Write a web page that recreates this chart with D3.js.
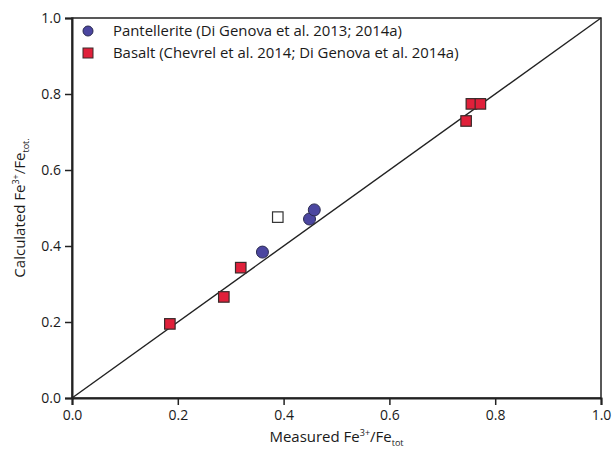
<!DOCTYPE html>
<html>
<head>
<meta charset="utf-8">
<script src="https://cdn.jsdelivr.net/npm/d3@7"></script>
<style>
body { margin: 0; background: #fff; }
#vis { width: 613px; height: 451px; }
text { font-family: "Open Sans", "Liberation Sans", sans-serif; fill: #1a1a1a; }
</style>
</head>
<body>
<div id="vis"></div>
<script>
// measured vs calculated Fe3+/Fetot
var pantelleriteX = [0.36, 0.449, 0.458];
var pantelleriteY = [0.384, 0.471, 0.495];
var basaltX = [0.185, 0.287, 0.319, 0.745, 0.755, 0.772];
var basaltY = [0.195, 0.266, 0.343, 0.729, 0.774, 0.774];
var openX = [0.389];
var openY = [0.476];
var ticks = [0, 0.2, 0.4, 0.6, 0.8, 1.0];
var legendLabels = ["Pantellerite (Di Genova et al. 2013; 2014a)",
                    "Basalt (Chevrel et al. 2014; Di Genova et al. 2014a)"];

var margin = { top: 18, left: 72, right: 12, bottom: 53 };
var width = 613 - margin.left - margin.right;
var height = 451 - margin.top - margin.bottom;

var svg = d3.select("#vis")
    .append("svg")
    .attr("width", 613)
    .attr("height", 451)
    .append("g")
    .attr("transform", "translate(" + margin.left + "," + margin.top + ")");

var xscale = d3.scaleLinear().domain([0, 1]).range([0, width]);
var yscale = d3.scaleLinear().domain([0, 1]).range([height, 0]);

// frame
svg.append("rect")
    .attr("width", width)
    .attr("height", height)
    .attr("fill", "none")
    .attr("stroke", "#222")
    .attr("stroke-width", 1.5);

var xaxis = d3.axisBottom(xscale).tickValues(ticks).tickFormat(d3.format(".1f"))
    .tickSize(7).tickPadding(5);
var yaxis = d3.axisLeft(yscale).tickValues(ticks).tickFormat(d3.format(".1f"))
    .tickSize(7).tickPadding(4);

var gx = svg.append("g")
    .attr("transform", "translate(0," + height + ")")
    .call(xaxis);
var gy = svg.append("g").call(yaxis);

[gx, gy].forEach(function(g) {
    g.select(".domain").attr("stroke", "#222").attr("stroke-width", 2);
    g.selectAll(".tick line").attr("stroke", "#222").attr("stroke-width", 1.5);
    g.selectAll(".tick text")
        .style("font-family", "'Open Sans', sans-serif")
        .style("font-size", "14px")
        .attr("fill", "#222");
});

// 1:1 line
svg.append("line")
    .attr("x1", xscale(0)).attr("y1", yscale(0))
    .attr("x2", xscale(1)).attr("y2", yscale(1))
    .attr("stroke", "#222")
    .attr("stroke-width", 1.4);

var basalt = basaltX.map(function(d, i) { return { x: d, y: basaltY[i] }; });
var pant = pantelleriteX.map(function(d, i) { return { x: d, y: pantelleriteY[i] }; });
var open = openX.map(function(d, i) { return { x: d, y: openY[i] }; });

var sq = 10.5;

svg.selectAll(".open")
    .data(open)
    .enter()
    .append("rect")
    .attr("class", "open")
    .attr("x", function(d) { return xscale(d.x) - sq / 2; })
    .attr("y", function(d) { return yscale(d.y) - sq / 2; })
    .attr("width", sq)
    .attr("height", sq)
    .attr("fill", "#fff")
    .attr("stroke", "#333")
    .attr("stroke-width", 1.2);

svg.selectAll(".bas")
    .data(basalt)
    .enter()
    .append("rect")
    .attr("class", "bas")
    .attr("x", function(d) { return xscale(d.x) - sq / 2; })
    .attr("y", function(d) { return yscale(d.y) - sq / 2; })
    .attr("width", sq)
    .attr("height", sq)
    .attr("fill", "#e0203a")
    .attr("stroke", "#3a2a2a")
    .attr("stroke-width", 1.2);

svg.selectAll(".pan")
    .data(pant)
    .enter()
    .append("circle")
    .attr("class", "pan")
    .attr("cx", function(d) { return xscale(d.x); })
    .attr("cy", function(d) { return yscale(d.y); })
    .attr("r", 6)
    .attr("fill", "#4b46a0")
    .attr("stroke", "#2a2a50")
    .attr("stroke-width", 1);

// legend
var leg = svg.append("g").attr("transform", "translate(16,13)");
leg.append("circle").attr("cx", 0).attr("cy", 0).attr("r", 5)
    .attr("fill", "#4b46a0").attr("stroke", "#2a2a50");
leg.append("rect").attr("x", -5).attr("y", 17).attr("width", 10).attr("height", 10)
    .attr("fill", "#e0203a").attr("stroke", "#3a2a2a");
leg.selectAll(".lt")
    .data(legendLabels)
    .enter()
    .append("text")
    .attr("class", "lt")
    .attr("x", 25)
    .attr("y", function(d, i) { return i * 22; })
    .attr("dy", "0.35em")
    .style("font-size", "14.9px")
    .text(function(d) { return d; });

// axis titles
var xt = svg.append("text")
    .attr("x", width / 2)
    .attr("y", height + 44)
    .style("text-anchor", "middle")
    .style("font-size", "15px");
xt.append("tspan").text("Measured Fe");
xt.append("tspan").attr("dy", -6).style("font-size", "9px").text("3+");
xt.append("tspan").attr("dy", 6).text("/Fe");
xt.append("tspan").attr("dy", 4).style("font-size", "9px").text("tot");

var yt = svg.append("text")
    .attr("transform", "rotate(-90)")
    .attr("x", -height / 2)
    .attr("y", -47)
    .style("text-anchor", "middle")
    .style("font-size", "15px");
yt.append("tspan").text("Calculated Fe");
yt.append("tspan").attr("dy", -6).style("font-size", "9px").text("3+");
yt.append("tspan").attr("dy", 6).text("/Fe");
yt.append("tspan").attr("dy", 4).style("font-size", "9px").text("tot.");
</script>
</body>
</html>
